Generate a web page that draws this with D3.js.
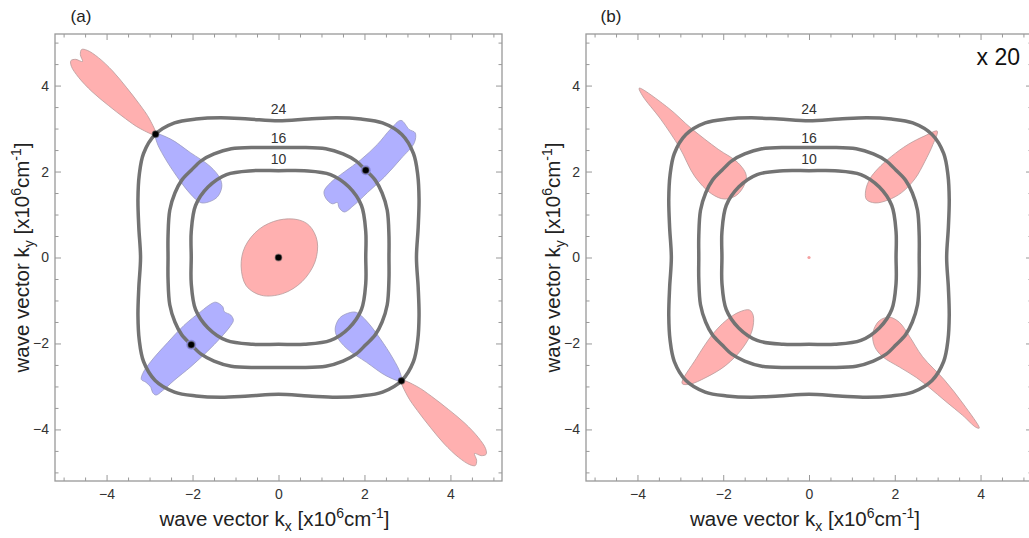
<!DOCTYPE html>
<html><head><meta charset="utf-8">
<script src="https://cdn.jsdelivr.net/npm/d3@7"></script>
<style>
body{margin:0;background:#fff}
text{font-family:"Liberation Sans",Arial,Helvetica,sans-serif}
</style>
</head><body>
<svg id="chart" width="1029" height="538"></svg>
<script>
// ---------- data ----------
const panelLabels = ["(a)", "(b)"];
const majorTicks = [-4, -2, 0, 2, 4];
const minorTicks = [-5, -4.5, -3.5, -3, -2.5, -1.5, -1, -0.5, 0.5, 1, 1.5, 2.5, 3, 3.5, 4.5, 5];
const contourLabels = ["24", "16", "10"];
const contourLabelKy = [3.35, 2.67, 2.17];
const scaleNote = "x 20";

// first-quadrant outlines of the energy contours (kx, ky), from x axis to y axis
const contour24Quadrant = [[3.21,0],[3.25,0.7],[3.27,1.35],[3.24,1.92],[3.14,2.42],[2.87,2.86],[2.42,3.13],[1.92,3.22],[1.35,3.25],[0.7,3.22],[0,3.18]];
const contour16Quadrant = [[2.57,0],[2.57,0.5],[2.53,1.1],[2.41,1.5],[2.25,1.8],[2.03,2.03],[1.8,2.25],[1.5,2.41],[1.1,2.53],[0.5,2.56],[0,2.56]];
const contour10Quadrant = [[2.03,0],[2.03,0.6],[1.93,1.21],[1.64,1.64],[1.21,1.93],[0.6,2.02],[0,2.02]];

// panel (a) lobes
const pinkTLa = [[-2.86,2.86],[-3.00,3.22],[-3.23,3.56],[-3.54,3.96],[-3.86,4.34],[-4.19,4.65],[-4.45,4.82],[-4.58,4.84],[-4.61,4.72],[-4.56,4.56],[-4.72,4.61],[-4.83,4.58],[-4.82,4.45],[-4.65,4.19],[-4.34,3.86],[-3.96,3.54],[-3.56,3.23],[-3.22,3.00]];
const blueTLa = [[-2.86,2.87],[-2.52,2.76],[-2.05,2.44],[-1.59,2.12],[-1.36,1.84],[-1.32,1.64],[-1.43,1.40],[-1.67,1.28],[-1.82,1.28],[-2.05,1.48],[-2.36,1.88],[-2.67,2.36],[-2.83,2.68]];
const pinkBRa = [[2.86,-2.86],[3.00,-3.22],[3.23,-3.56],[3.54,-3.96],[3.86,-4.34],[4.19,-4.65],[4.45,-4.82],[4.58,-4.84],[4.61,-4.72],[4.56,-4.56],[4.72,-4.61],[4.83,-4.58],[4.82,-4.45],[4.65,-4.19],[4.34,-3.86],[3.96,-3.54],[3.56,-3.23],[3.22,-3.00]];
const blueBRa = [[2.86,-2.87],[2.52,-2.76],[2.05,-2.44],[1.59,-2.12],[1.36,-1.84],[1.32,-1.64],[1.43,-1.40],[1.67,-1.28],[1.82,-1.28],[2.05,-1.48],[2.36,-1.88],[2.67,-2.36],[2.83,-2.68]];
const blueTRa = [[2.85,3.19],[3.04,2.98],[3.18,2.90],[3.16,2.67],[2.85,2.30],[2.46,1.87],[2.07,1.51],[1.76,1.22],[1.53,1.06],[1.41,1.16],[1.37,1.28],[1.25,1.25],[1.10,1.38],[1.06,1.54],[1.21,1.74],[1.53,1.99],[1.91,2.27],[2.30,2.63],[2.61,2.99]];
const blueBLa = [[-1.46,-1.04],[-1.30,-1.14],[-1.26,-1.26],[-1.11,-1.34],[-1.05,-1.46],[-1.11,-1.58],[-1.34,-1.86],[-1.65,-2.18],[-2.04,-2.54],[-2.43,-2.86],[-2.70,-3.10],[-2.85,-3.20],[-2.93,-3.14],[-2.97,-3.02],[-3.09,-2.90],[-3.19,-2.84],[-3.16,-2.70],[-2.97,-2.42],[-2.58,-1.98],[-2.20,-1.58],[-1.81,-1.26],[-1.57,-1.08]];
const pinkCenterA = [[0.72,0.74],[0.45,0.88],[0.0,0.87],[-0.45,0.66],[-0.78,0.25],[-0.87,-0.2],[-0.75,-0.66],[-0.40,-0.88],[0.10,-0.84],[0.55,-0.56],[0.85,-0.1],[0.9,0.38]];
const dotsA = [[-2.86,2.87],[2.86,-2.87],[2.03,2.03],[-2.03,-2.03],[0,0]];
const ringedDotsA = [[2.03,2.03],[-2.03,-2.03]];

// panel (b) lobes (x 20)
const pinkTLb = [[-3.96,3.94],[-3.28,3.48],[-2.74,3.00],[-2.12,2.52],[-1.65,2.20],[-1.46,1.88],[-1.65,1.48],[-1.96,1.36],[-2.27,1.48],[-2.66,1.88],[-3.02,2.56],[-3.46,3.22],[-3.88,3.76]];
const pinkTRb = [[2.99,2.94],[2.70,2.83],[2.31,2.63],[1.92,2.35],[1.61,2.07],[1.42,1.83],[1.32,1.55],[1.34,1.35],[1.54,1.27],[1.85,1.34],[2.16,1.51],[2.47,1.83],[2.70,2.23],[2.89,2.63]];
const pinkBLb = [[-2.96,-2.93],[-2.63,-2.35],[-2.25,-1.79],[-1.94,-1.47],[-1.63,-1.27],[-1.39,-1.22],[-1.30,-1.35],[-1.33,-1.71],[-1.55,-2.11],[-1.94,-2.51],[-2.40,-2.79],[-2.79,-2.95]];
const pinkBRb = [[3.97,-3.97],[3.60,-3.41],[3.15,-2.84],[2.65,-2.31],[2.34,-1.83],[2.11,-1.51],[1.88,-1.39],[1.64,-1.47],[1.49,-1.75],[1.53,-2.07],[1.72,-2.31],[2.11,-2.55],[2.50,-2.79],[2.81,-3.03],[3.19,-3.35],[3.58,-3.67],[3.89,-3.95]];
const centerDotB = [[0,0]];

// ---------- drawing ----------
const svg = d3.select("#chart");
const PINK = "#ffb0b0", BLUE = "#b0b0ff";
const panels = [
  {label: panelLabels[0], x0: 55, x1: 502, labelX: 81, titleX: 22,
   pink: [pinkTLa, pinkBRa, pinkCenterA], blue: [blueTLa, blueBRa, blueTRa, blueBLa], dots: dotsA, rings: ringedDotsA, tiny: []},
  {label: panelLabels[1], x0: 586, x1: 1032, labelX: 611, titleX: 553,
   pink: [pinkTLb, pinkTRb, pinkBLb, pinkBRb], blue: [], dots: [], rings: [], tiny: centerDotB, note: scaleNote}
];
const plotTop = 34, plotBottom = 481;
const dom = [-5.2, 5.2];

function ring(q) {
  const pts = [];
  q.forEach(p => pts.push([p[0], p[1]]));
  q.slice(0, -1).reverse().forEach(p => pts.push([-p[0], p[1]]));
  q.slice(1).forEach(p => pts.push([-p[0], -p[1]]));
  q.slice(1, -1).reverse().forEach(p => pts.push([p[0], -p[1]]));
  return pts;
}

panels.forEach(P => {
  const xs = d3.scaleLinear().domain(dom).range([P.x0, P.x1]);
  const ys = d3.scaleLinear().domain(dom).range([plotBottom, plotTop]);
  const g = svg.append("g");
  const line = d3.line().x(d => xs(d[0])).y(d => ys(d[1])).curve(d3.curveCatmullRomClosed.alpha(0.5));

  g.selectAll("path.pink").data(P.pink).join("path").attr("class","pink")
    .attr("d", line).attr("fill", PINK).attr("stroke", "#b89a9a").attr("stroke-width", 0.8);
  g.selectAll("path.blue").data(P.blue).join("path").attr("class","blue")
    .attr("d", line).attr("fill", BLUE).attr("stroke", "#9a9ac0").attr("stroke-width", 0.8);
  g.selectAll("circle.tiny").data(P.tiny).join("circle").attr("class","tiny")
    .attr("cx", d => xs(d[0])).attr("cy", d => ys(d[1])).attr("r", 1.6).attr("fill", "#f4a0a0");

  [contour24Quadrant, contour16Quadrant, contour10Quadrant].forEach(q => {
    g.append("path").datum(ring(q)).attr("d", line)
      .attr("fill", "none").attr("stroke", "#737373").attr("stroke-width", 3.5);
  });
  g.selectAll("text.clab").data(contourLabels).join("text").attr("class","clab")
    .attr("x", xs(0)).attr("y", (d, i) => ys(contourLabelKy[i]))
    .attr("text-anchor", "middle").attr("font-size", 14).attr("fill", "#333").text(d => d);

  g.selectAll("circle.ring").data(P.rings).join("circle").attr("class","ring")
    .attr("cx", d => xs(d[0])).attr("cy", d => ys(d[1])).attr("r", 5)
    .attr("fill", "#8c8ce0");
  g.selectAll("circle.dot").data(P.dots).join("circle").attr("class","dot")
    .attr("cx", d => xs(d[0])).attr("cy", d => ys(d[1])).attr("r", 3.3)
    .attr("fill", "#000").attr("stroke", "rgba(90,90,90,0.5)").attr("stroke-width", 1.2);

  g.append("rect").attr("x", P.x0).attr("y", plotTop).attr("width", P.x1 - P.x0).attr("height", plotBottom - plotTop)
    .attr("fill", "none").attr("stroke", "#999").attr("stroke-width", 1.3);

  const styleAxis = sel => { sel.select(".domain").remove(); sel.selectAll("line").attr("stroke", "#999"); sel.selectAll("text").attr("font-size", 14).attr("fill", "#333").attr("font-family", '"Liberation Sans",Arial,sans-serif'); };
  const fmt = d => d < 0 ? "\u2212" + Math.abs(d) : String(d);

  g.append("g").attr("transform", `translate(0,${plotBottom})`)
    .call(d3.axisBottom(xs).tickValues(majorTicks).tickSize(-6).tickPadding(8).tickFormat(fmt)).call(styleAxis);
  g.append("g").attr("transform", `translate(0,${plotBottom})`)
    .call(d3.axisBottom(xs).tickValues(minorTicks).tickSize(-3.5).tickFormat("")).call(styleAxis);
  g.append("g").attr("transform", `translate(0,${plotTop})`)
    .call(d3.axisTop(xs).tickValues(majorTicks).tickSize(-6).tickFormat("")).call(styleAxis);
  g.append("g").attr("transform", `translate(0,${plotTop})`)
    .call(d3.axisTop(xs).tickValues(minorTicks).tickSize(-3.5).tickFormat("")).call(styleAxis);
  g.append("g").attr("transform", `translate(${P.x0},0)`)
    .call(d3.axisLeft(ys).tickValues(majorTicks).tickSize(-6).tickPadding(6).tickFormat(fmt)).call(styleAxis);
  g.append("g").attr("transform", `translate(${P.x0},0)`)
    .call(d3.axisLeft(ys).tickValues(minorTicks).tickSize(-3.5).tickFormat("")).call(styleAxis);
  g.append("g").attr("transform", `translate(${P.x1},0)`)
    .call(d3.axisRight(ys).tickValues(majorTicks).tickSize(-6).tickFormat("")).call(styleAxis);
  g.append("g").attr("transform", `translate(${P.x1},0)`)
    .call(d3.axisRight(ys).tickValues(minorTicks).tickSize(-3.5).tickFormat("")).call(styleAxis);

  const xt = g.append("text").attr("x", (P.x0 + P.x1) / 2 - 4).attr("y", 526)
    .attr("text-anchor", "middle").attr("font-size", 20.5).attr("fill", "#222");
  xt.append("tspan").text("wave vector k");
  xt.append("tspan").attr("font-size", 14).attr("dy", 5).text("x");
  xt.append("tspan").attr("dy", -5).text(" [x10");
  xt.append("tspan").attr("font-size", 14).attr("dy", -8).text("6");
  xt.append("tspan").attr("dy", 8).text("cm");
  xt.append("tspan").attr("font-size", 14).attr("dy", -8).text("-1");
  xt.append("tspan").attr("dy", 8).text("]");

  const yt = g.append("text").attr("transform", `translate(${P.titleX + 7},${(plotTop + plotBottom) / 2}) rotate(-90)`)
    .attr("text-anchor", "middle").attr("font-size", 20.5).attr("fill", "#222");
  yt.append("tspan").text("wave vector k");
  yt.append("tspan").attr("font-size", 14).attr("dy", 5).text("y");
  yt.append("tspan").attr("dy", -5).text(" [x10");
  yt.append("tspan").attr("font-size", 14).attr("dy", -8).text("6");
  yt.append("tspan").attr("dy", 8).text("cm");
  yt.append("tspan").attr("font-size", 14).attr("dy", -8).text("-1");
  yt.append("tspan").attr("dy", 8).text("]");

  g.append("text").attr("x", P.labelX).attr("y", 22).attr("text-anchor", "middle")
    .attr("font-size", 17).attr("fill", "#222").text(P.label);
  if (P.note) {
    g.append("text").attr("x", 1020).attr("y", 65).attr("text-anchor", "end")
      .attr("font-size", 23).attr("fill", "#111").text(P.note);
  }
});
</script>
</body></html>
